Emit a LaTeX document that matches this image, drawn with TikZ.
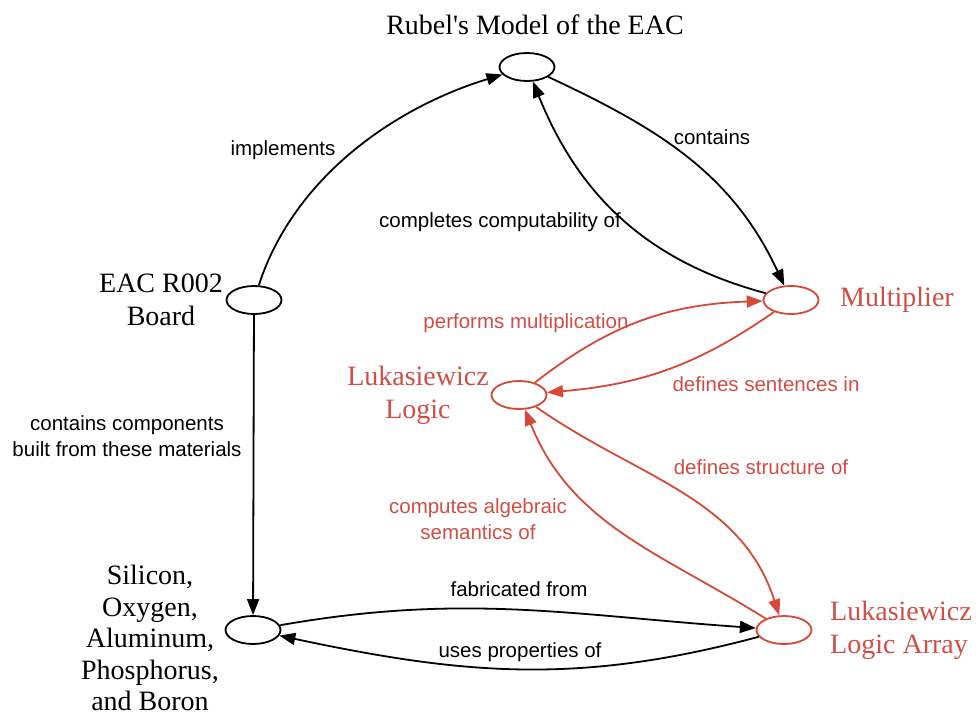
\documentclass[tikz,border=0pt]{standalone}
\usepackage{fontspec}
\setmainfont{Liberation Serif}
\newfontfamily\lsans{Liberation Sans}
\usetikzlibrary{shapes.geometric,arrows.meta}
\definecolor{cred}{RGB}{214,72,56}
\definecolor{tred}{RGB}{208,78,70}
\begin{document}
\begin{tikzpicture}[x=1pt,y=-1pt,
  ell/.style={ellipse,draw,line width=1.8pt,minimum width=55pt,minimum height=28pt,inner sep=0pt},
  rell/.style={ell,draw=cred},
  conn/.style={line width=1.8pt,-{Triangle[length=16pt,width=12pt]}},
  rconn/.style={conn,draw=cred},
  lab/.style={font=\lsans\fontsize{20.5}{26}\selectfont,align=center,inner sep=0pt},
  rlab/.style={lab,text=tred},
  ttl/.style={font=\fontsize{28}{33}\selectfont,align=center,inner sep=0pt},
  rttl/.style={ttl,text=tred},
]
\useasboundingbox (0,0) rectangle (976,715);
\fill[white] (0,0) rectangle (976,715);

% nodes
\node[ell] (rubel) at (527,67) {};
\node[ell] (board) at (254,300) {};
\node[rell] (mult) at (791,300) {};
\node[rell] (logic) at (519,395) {};
\node[ell] (sil) at (253,630) {};
\node[rell] (arr) at (784,630) {};

% node texts
\node[ttl] (trubel) at (535,25) {Rubel\textquotesingle s Model of the EAC};
\node[ttl] (tboard) at (161,300) {EAC R002\\Board};
\node[rttl,anchor=west] (tmult) at (840,300) {Multiplier};
\node[rttl] (tlogic) at (418,395) {Lukasiewicz\\Logic};
\node[ttl,font=\fontsize{28}{31.5}\selectfont] (tsil) at (150,638) {Silicon,\\Oxygen,\\Aluminum,\\Phosphorus,\\and Boron};
\node[rttl,anchor=west,align=left] (tarr) at (830,630) {Lukasiewicz\\Logic Array};

% black connectors
\draw[conn] (board) to[out=72,in=197,looseness=0.9] (rubel);
\draw[conn] (rubel) to[out=-25,in=115] (mult);
\draw[conn] (mult) to[out=165,in=-68] (rubel);
\draw[conn] (board) -- (sil);
\draw[conn] (sil) to[out=10,in=176] (arr);
\draw[conn] (arr) to[out=195,in=-12] (sil);

% red connectors
\draw[rconn] (logic) to[out=38,in=182] (mult);
\draw[rconn] (mult) to[out=215,in=5] (logic);
\draw[rconn] (logic) to[out=-35,in=108] (arr);
\draw[rconn] (arr) to[out=148,in=-68] (logic);

% labels
\node[lab] (limpl) at (283,150) {implements};
\node[lab] (lcont) at (712,137) {contains};
\node[lab] (lcomp) at (500,222) {completes computability of};
\node[lab] (lmat) at (127,436) {contains components\\built from these materials};
\node[lab] (lfab) at (519,589) {fabricated from};
\node[lab] (luse) at (520,652) {uses properties of};
\node[rlab] (lperf) at (526,323) {performs multiplication};
\node[rlab] (ldefs) at (766,384) {defines sentences in};
\node[rlab] (ldefst) at (761,467) {defines structure of};
\node[rlab] (lalg) at (478,519) {computes algebraic\\semantics of};
\end{tikzpicture}
\end{document}
